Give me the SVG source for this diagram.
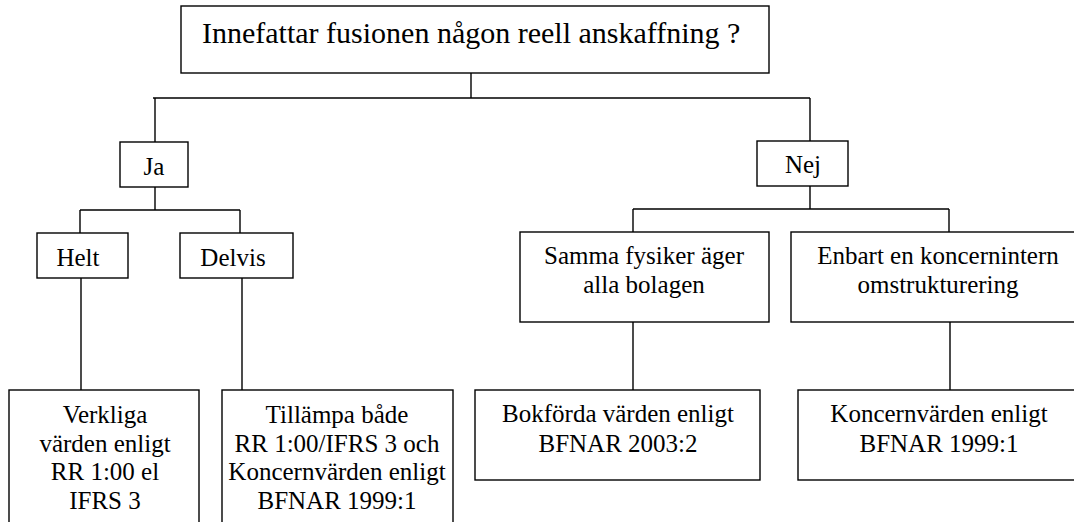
<svg xmlns="http://www.w3.org/2000/svg" width="1074" height="522" viewBox="0 0 1074 522">
<style>
.box{fill:#fff;stroke:#000;stroke-width:1.4}
.ln{fill:none;stroke:#000;stroke-width:1.4}
text{font-family:"Liberation Serif","Times New Roman",serif;font-size:25px;fill:#000;text-anchor:middle}
.t{font-size:30px;text-anchor:start}
</style>
<rect width="1074" height="522" fill="#fff"/>
<g id="connectors">
<path class="ln" d="M471,73V98M153,98H810M155,98V142M810,98V141"/>
<path class="ln" d="M155,187V210M80,210H240M80,210V233M240,210V233"/>
<path class="ln" d="M81,278V390M242,278V390"/>
<path class="ln" d="M810,186V209M633,209H949M633,209V232M949,209V232"/>
<path class="ln" d="M633,322V390M950,322V390"/>
</g>
<g id="root"><rect class="box" x="181" y="6" width="588" height="67"/><text class="t" x="202" y="43">Innefattar fusionen någon reell anskaffning ?</text></g>
<g id="ja"><rect class="box" x="120" y="142" width="68" height="45"/><text x="154" y="175">Ja</text></g>
<g id="nej"><rect class="box" x="757" y="141" width="91" height="45"/><text x="803" y="173">Nej</text></g>
<g id="helt"><rect class="box" x="37" y="233" width="91" height="45"/><text x="78" y="266">Helt</text></g>
<g id="delvis"><rect class="box" x="180" y="233" width="113" height="45"/><text x="233" y="266">Delvis</text></g>
<g id="samma"><rect class="box" x="520" y="232" width="249" height="90"/><text x="644" y="264">Samma fysiker äger</text><text x="644" y="293">alla bolagen</text></g>
<g id="enbart"><rect class="box" x="791" y="232" width="300" height="90"/><text x="938" y="264">Enbart en koncernintern</text><text x="938" y="293">omstrukturering</text></g>
<g id="verkliga"><rect class="box" x="9" y="390" width="190" height="150"/><text x="105" y="423">Verkliga</text><text x="105" y="452">värden enligt</text><text x="105" y="480">RR 1:00 el</text><text x="105" y="509">IFRS 3</text></g>
<g id="tillampa"><rect class="box" x="222" y="390" width="231" height="150"/><text x="337" y="423">Tillämpa både</text><text x="337" y="452">RR 1:00/IFRS 3 och</text><text x="337" y="480">Koncernvärden enligt</text><text x="337" y="509">BFNAR 1999:1</text></g>
<g id="bokforda"><rect class="box" x="475" y="390" width="285" height="90"/><text x="618" y="422">Bokförda värden enligt</text><text x="618" y="452">BFNAR 2003:2</text></g>
<g id="koncern"><rect class="box" x="798" y="390" width="290" height="90"/><text x="939" y="422">Koncernvärden enligt</text><text x="939" y="452">BFNAR 1999:1</text></g>
</svg>
